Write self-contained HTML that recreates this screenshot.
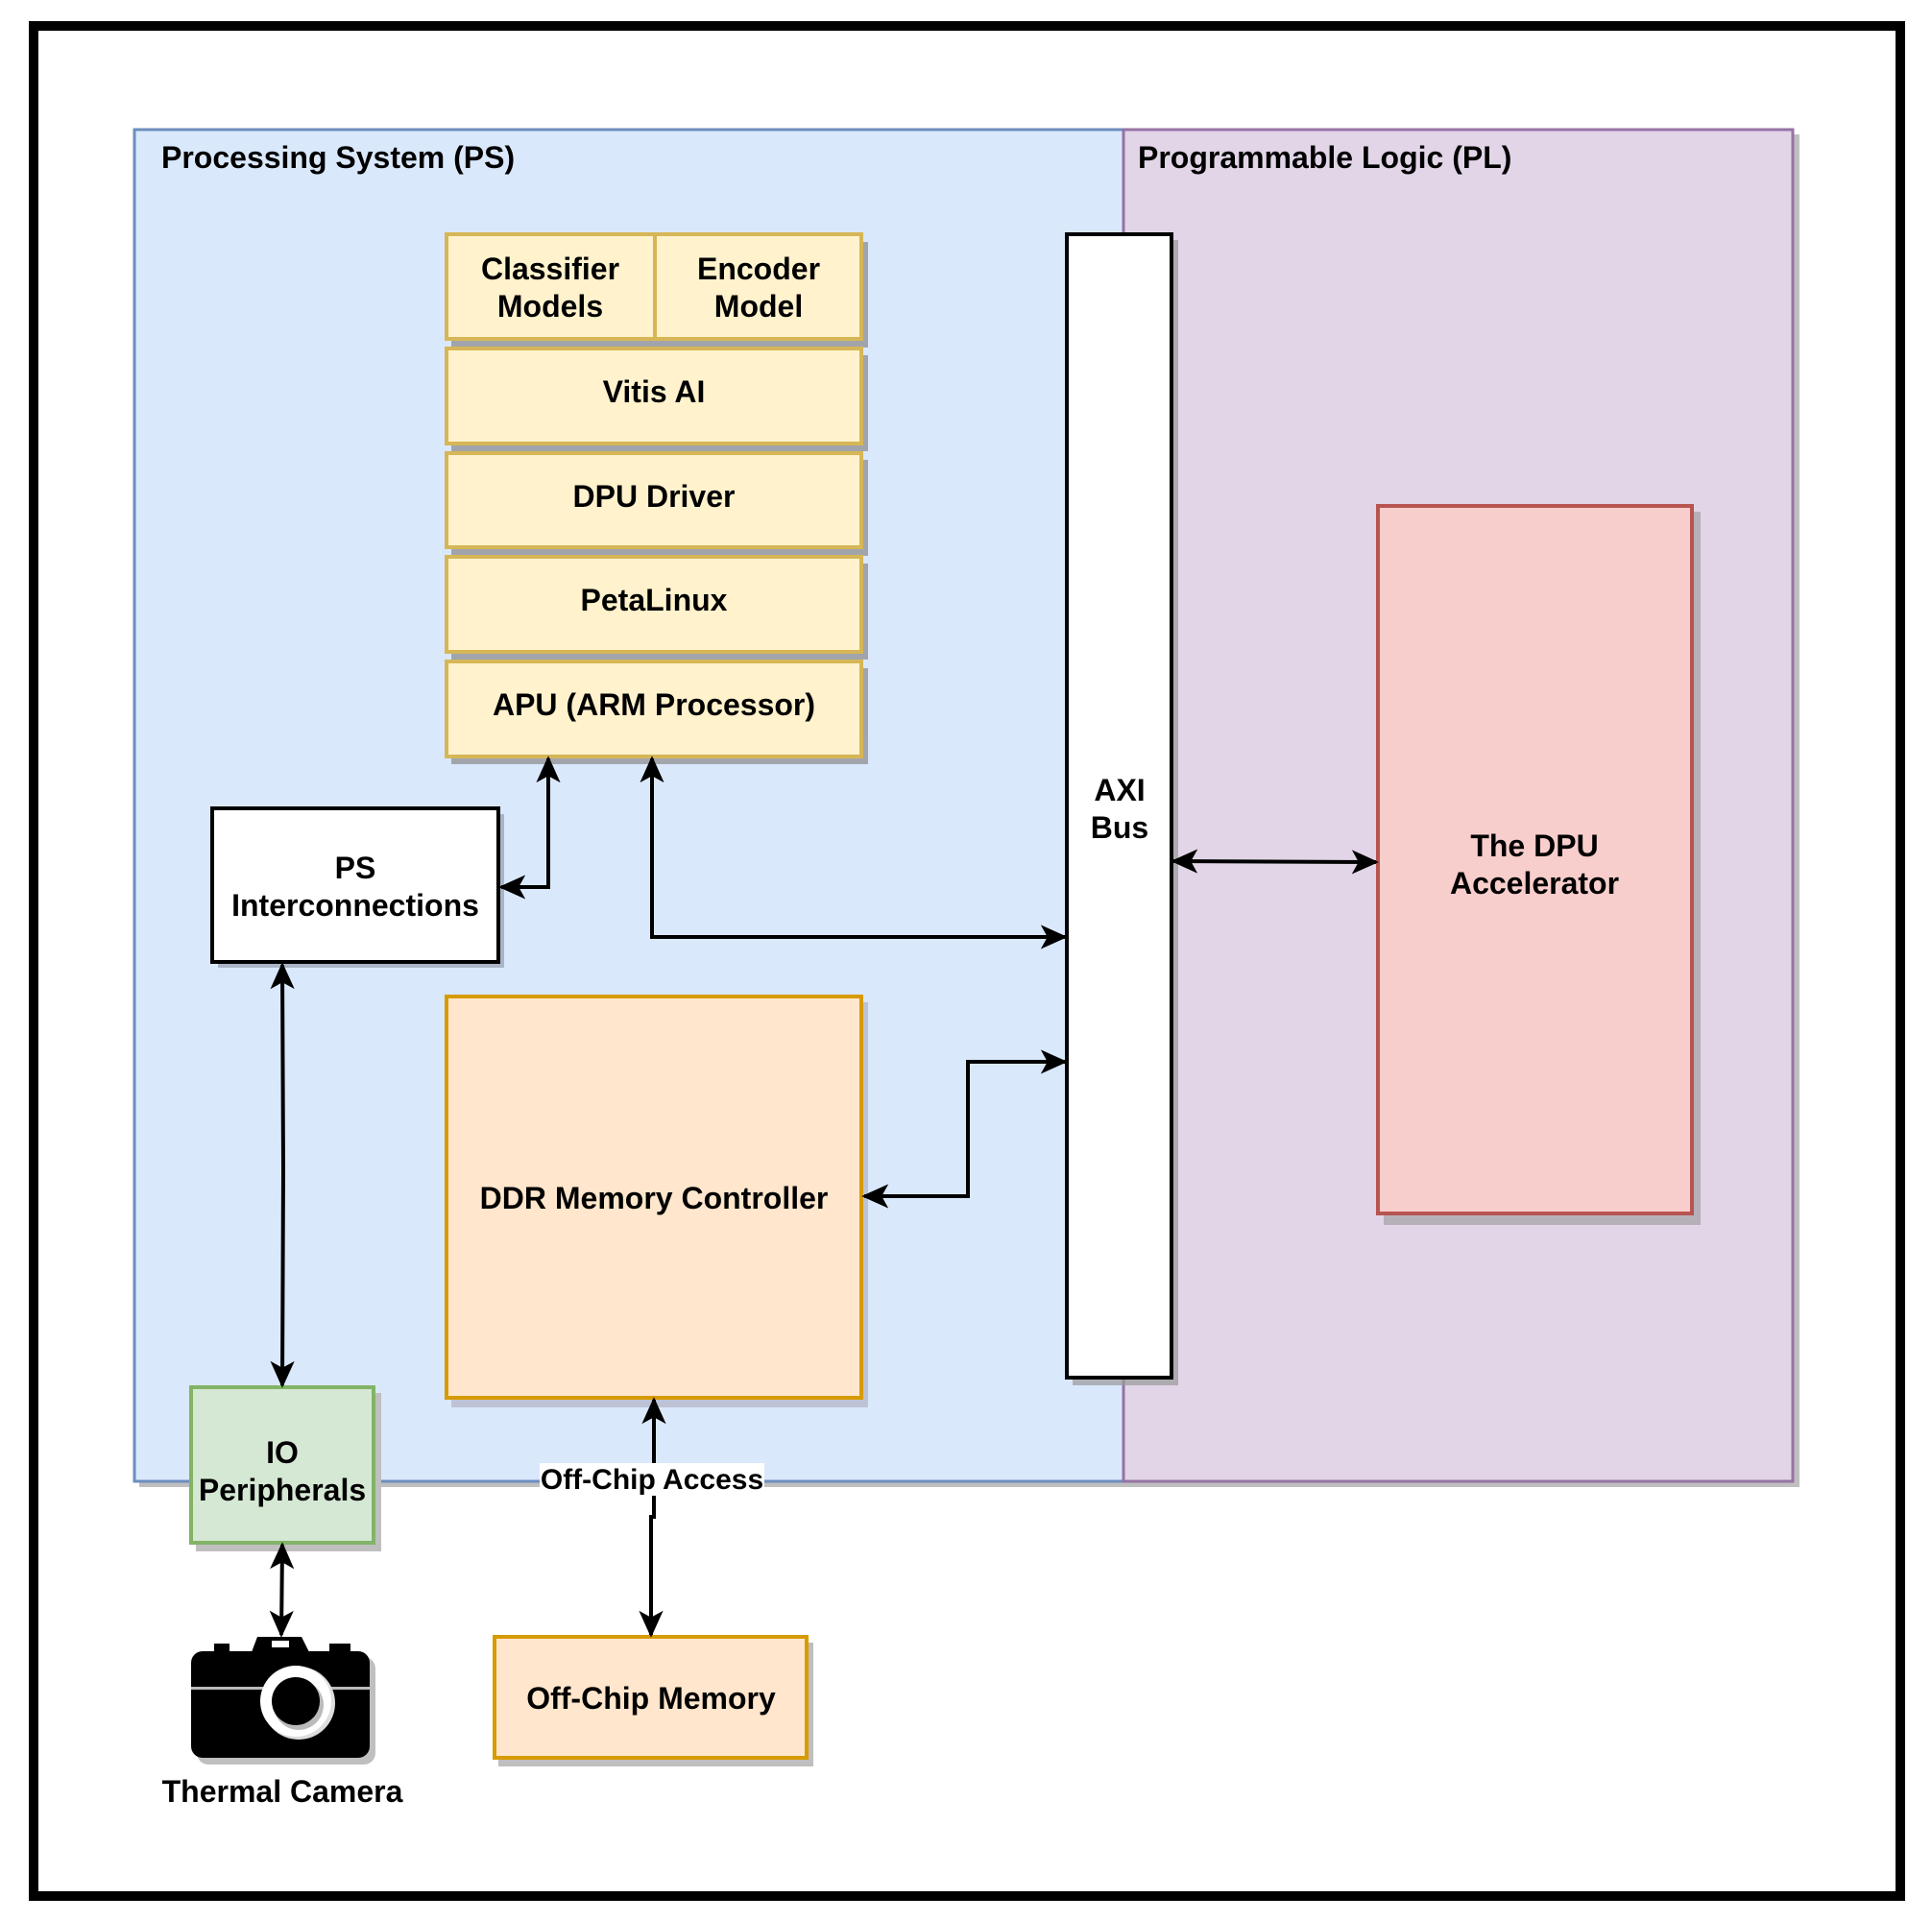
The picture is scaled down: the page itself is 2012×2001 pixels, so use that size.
<!DOCTYPE html>
<html><head><meta charset="utf-8"><style>body{margin:0;background:#fff}svg{display:block}text{font-family:"Liberation Sans",sans-serif;font-weight:bold;font-size:32px;fill:#000}</style></head><body>
<svg width="2012" height="2001" viewBox="0 0 2012 2001" xmlns="http://www.w3.org/2000/svg">
<defs>
<marker id="m" viewBox="0 0 20 20" refX="18" refY="10" markerWidth="28" markerHeight="28" markerUnits="userSpaceOnUse" orient="auto-start-reverse"><path d="M0,1 L20,10 L0,19 L5,10 Z" fill="#000"/></marker></defs>
<rect x="35" y="27" width="1944" height="1948" fill="none" stroke="#000" stroke-width="10"/>
<rect x="145" y="140" width="1030" height="1409" fill="#bfbfbf"/>
<rect x="1171" y="140" width="703" height="1409" fill="#bfbfbf"/>
<rect x="140" y="135" width="1030" height="1408" fill="#dae8fc" stroke="#6c8ebf" stroke-width="3"/>
<rect x="1170" y="135" width="697" height="1408" fill="#e1d5e7" stroke="#9673a6" stroke-width="3"/>
<text x="168" y="175">Processing System (PS)</text>
<text x="1185" y="175">Programmable Logic (PL)</text>
<g fill="#8a8a8a" opacity="0.7">
<rect x="470" y="252" width="434" height="110"/><rect x="470" y="370" width="434" height="100"/><rect x="470" y="479" width="434" height="100"/><rect x="470" y="587" width="434" height="100"/><rect x="470" y="696" width="434" height="100"/></g>
<g fill="#fff2cc" stroke="#d6b656" stroke-width="4">
<rect x="465" y="244" width="217" height="109"/><rect x="682" y="244" width="215" height="109"/>
<rect x="465" y="363" width="432" height="99"/><rect x="465" y="472" width="432" height="98"/><rect x="465" y="580" width="432" height="99"/><rect x="465" y="689" width="432" height="99"/></g>
<g text-anchor="middle">
<text x="573" y="291">Classifier</text><text x="573" y="330">Models</text>
<text x="790" y="291">Encoder</text><text x="790" y="330">Model</text>
<text x="681" y="419">Vitis AI</text><text x="681" y="528">DPU Driver</text><text x="681" y="636">PetaLinux</text><text x="681" y="745">APU (ARM Processor)</text></g>
<rect x="227" y="848" width="298" height="160" fill="#a9b5c6"/>
<rect x="221" y="842" width="298" height="160" fill="#fff" stroke="#000" stroke-width="4"/>
<text x="370" y="915" text-anchor="middle">PS</text><text x="370" y="954" text-anchor="middle">Interconnections</text>
<rect x="470" y="1044" width="434" height="422" fill="#aab" opacity="0.6"/>
<rect x="465" y="1038" width="432" height="418" fill="#ffe6cc" stroke="#d79b00" stroke-width="4"/>
<text x="681" y="1259" text-anchor="middle">DDR Memory Controller</text>
<rect x="1117" y="250" width="110" height="1193" fill="#999" opacity="0.7"/>
<rect x="1111" y="244" width="109" height="1191" fill="#fff" stroke="#000" stroke-width="4"/>
<text x="1166" y="834" text-anchor="middle">AXI</text><text x="1166" y="873" text-anchor="middle">Bus</text>
<rect x="1441" y="533" width="330" height="743" fill="#999" opacity="0.6"/>
<rect x="1435" y="527" width="327" height="737" fill="#f8cecc" stroke="#b85450" stroke-width="4"/>
<text x="1598" y="892" text-anchor="middle">The DPU</text><text x="1598" y="931" text-anchor="middle">Accelerator</text>
<rect x="204" y="1451" width="193" height="165" fill="#bfbfbf"/>
<rect x="199" y="1445" width="190" height="162" fill="#d5e8d4" stroke="#82b366" stroke-width="4"/>
<text x="294" y="1524" text-anchor="middle">IO</text><text x="294" y="1563" text-anchor="middle">Peripherals</text>
<rect x="519" y="1711" width="328" height="129" fill="#bfbfbf"/>
<rect x="515" y="1705" width="325" height="126" fill="#ffe6cc" stroke="#d79b00" stroke-width="4"/>
<text x="678" y="1780" text-anchor="middle">Off-Chip Memory</text>
<rect x="205" y="1726" width="186" height="112" rx="12" fill="#bfbfbf"/>
<rect x="199" y="1720" width="186" height="111" rx="12" fill="#000"/>
<path d="M262 1721 L268 1705 L314 1705 L322 1721 Z" fill="#000"/>
<rect x="223" y="1712" width="16" height="8" fill="#000"/><rect x="343" y="1712" width="22" height="8" fill="#000"/>
<rect x="283" y="1709" width="18" height="7" fill="#fff"/>
<rect x="199" y="1757" width="186" height="3" fill="#bbb"/>
<circle cx="311" cy="1774" r="38" fill="#ddd"/><circle cx="308" cy="1772" r="37" fill="#fff"/><circle cx="311" cy="1776" r="26" fill="#bbb"/><circle cx="308" cy="1772" r="25" fill="#000"/>
<text x="294" y="1877" text-anchor="middle">Thermal Camera</text>
<g fill="none" stroke="#000" stroke-width="4">
<path d="M571 790 L571 924 L522 924" marker-start="url(#m)" marker-end="url(#m)"/>
<path d="M679 790 L679 976 L1109 976" marker-start="url(#m)" marker-end="url(#m)"/>
<path d="M1222 897 L1433 898" marker-start="url(#m)" marker-end="url(#m)"/>
<path d="M900 1246 L1008 1246 L1008 1106 L1109 1106" marker-start="url(#m)" marker-end="url(#m)"/>
<path d="M294 1005 L295 1218 L294 1443" marker-start="url(#m)" marker-end="url(#m)"/>
<path d="M294 1609 L293 1703" marker-start="url(#m)" marker-end="url(#m)"/>
<path d="M681 1458 L681 1580 L678 1580 L678 1703" marker-start="url(#m)" marker-end="url(#m)"/>
</g>
<rect x="562" y="1524" width="234" height="34" fill="#fff"/>
<text x="679" y="1551" text-anchor="middle" style="font-size:30px">Off-Chip Access</text>
</svg>
</body></html>
